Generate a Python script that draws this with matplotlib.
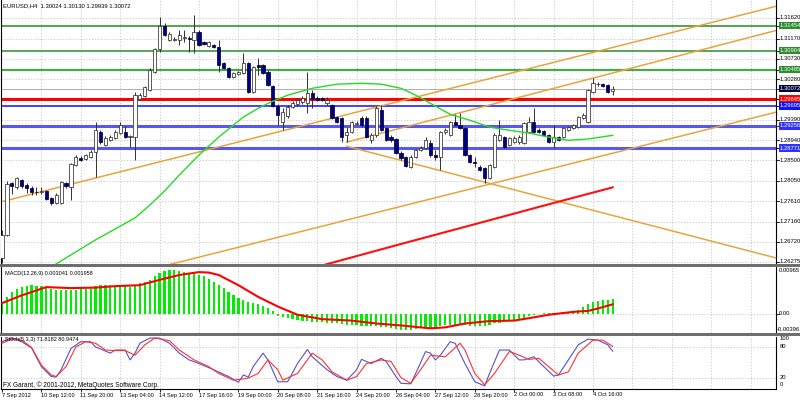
import matplotlib
matplotlib.use("Agg")
import matplotlib.pyplot as plt
from matplotlib.patches import Rectangle

plt.rcParams['font.family'] = ['Liberation Sans', 'DejaVu Sans']

W, H = 800, 400

chart_title = "EURUSD,H4  1.30024 1.30130 1.29939 1.30072"
macd_title = "MACD(12,26,9) 0.003041 0.001958"
stoch_title = "Stoch(5,3,3) 71.8182 80.9474"
copyright_text = "FX Garant, \u00a9 2001-2012, MetaQuotes Software Corp."

date_labels = ["7 Sep 2012", "10 Sep 12:00", "11 Sep 20:00", "13 Sep 04:00", "14 Sep 12:00",
               "17 Sep 16:00", "19 Sep 00:00", "20 Sep 08:00", "21 Sep 16:00", "24 Sep 20:00",
               "26 Sep 04:00", "27 Sep 12:00", "28 Sep 20:00", "2 Oct 00:00", "3 Oct 08:00",
               "4 Oct 16:00"]
date_label_bars = [0, 8, 16, 24, 32, 40, 48, 56, 64, 72, 80, 88, 96, 104, 112, 120]
grid_bars = list(range(8, 157, 8))

opens = [1.2636, 1.2686, 1.2800, 1.2791, 1.2807, 1.2796, 1.2789, 1.2781, 1.2781, 1.2783,
         1.2767, 1.2756, 1.2756, 1.2800, 1.2791, 1.2840, 1.2855, 1.2853, 1.2857, 1.2868,
         1.2912, 1.2883, 1.2894, 1.2899, 1.2910, 1.2912, 1.2901, 1.2901, 1.2984, 1.2991,
         1.3004, 1.3043, 1.3094, 1.3144, 1.3113, 1.3113, 1.3113, 1.3118, 1.3118, 1.3113,
         1.3131, 1.3109, 1.3100, 1.3102, 1.3098, 1.3063, 1.3052, 1.3032, 1.3039, 1.3041,
         1.3063, 1.2999, 1.3059, 1.3059, 1.3043, 1.3013, 1.2969, 1.2934, 1.2947, 1.2967,
         1.2973, 1.2978, 1.2975, 1.2997, 1.2986, 1.2986, 1.2975, 1.2971, 1.2945, 1.2943,
         1.2905, 1.2912, 1.2929, 1.2943, 1.2943, 1.2894, 1.2905, 1.2960, 1.2921, 1.2901,
         1.2897, 1.2866, 1.2857, 1.2835, 1.2857, 1.2872, 1.2877, 1.2888, 1.2862, 1.2857,
         1.2912, 1.2905, 1.2934, 1.2927, 1.2921, 1.2862, 1.2846, 1.2835, 1.2833, 1.2811,
         1.2835, 1.2894, 1.2901, 1.2883, 1.2890, 1.2890, 1.2888, 1.2912, 1.2934, 1.2916,
         1.2914, 1.2905, 1.2890, 1.2901, 1.2901, 1.2916, 1.2921, 1.2923, 1.2943, 1.2934,
         1.2999, 1.3017, 1.3017, 1.3015, 1.30024]
highs = [1.2697, 1.2805, 1.2802, 1.2813, 1.2809, 1.2800, 1.2794, 1.2791, 1.2791, 1.2785,
         1.2770, 1.2778, 1.2805, 1.2802, 1.2844, 1.2862, 1.2859, 1.2864, 1.2872, 1.2934,
         1.2916, 1.2903, 1.2905, 1.2916, 1.2934, 1.2925, 1.2905, 1.2999, 1.2997, 1.3013,
         1.3052, 1.3096, 1.3164, 1.3151, 1.3131, 1.3120, 1.3135, 1.3135, 1.3122, 1.3168,
         1.3135, 1.3111, 1.3111, 1.3105, 1.3113, 1.3065, 1.3054, 1.3043, 1.3046, 1.3085,
         1.3065, 1.3056, 1.3074, 1.3061, 1.3048, 1.3015, 1.2973, 1.2964, 1.2971, 1.2980,
         1.2986, 1.2991, 1.3043, 1.3004, 1.2991, 1.2989, 1.2989, 1.2973, 1.2947, 1.2945,
         1.2923, 1.2936, 1.2936, 1.2947, 1.2947, 1.2910, 1.2969, 1.2971, 1.2923, 1.2905,
         1.2899, 1.2870, 1.2859, 1.2862, 1.2875, 1.2881, 1.2901, 1.2894, 1.2872, 1.2914,
         1.2921, 1.2936, 1.2951, 1.2954, 1.2923, 1.2864, 1.2857, 1.2840, 1.2835, 1.2842,
         1.2910, 1.2938, 1.2903, 1.2901, 1.2903, 1.2905, 1.2934, 1.2945, 1.2964, 1.2921,
         1.2916, 1.2908, 1.2927, 1.2903, 1.2923, 1.2925, 1.2929, 1.2947, 1.2954, 1.3006,
         1.3030, 1.3021, 1.3019, 1.3017, 1.30130]
lows = [1.2625, 1.2684, 1.2776, 1.2787, 1.2789, 1.2778, 1.2774, 1.2774, 1.2776, 1.2763,
        1.2752, 1.2754, 1.2754, 1.2789, 1.2763, 1.2837, 1.2848, 1.2851, 1.2855, 1.2813,
        1.2886, 1.2881, 1.2892, 1.2897, 1.2908, 1.2899, 1.2879, 1.2851, 1.2982, 1.2989,
        1.3002, 1.3041, 1.3087, 1.3122, 1.3111, 1.3111, 1.3102, 1.3109, 1.3087, 1.3085,
        1.3100, 1.3102, 1.3098, 1.3096, 1.3043, 1.3050, 1.3030, 1.3030, 1.3037, 1.3039,
        1.2997, 1.2997, 1.3037, 1.3039, 1.3013, 1.2967, 1.2927, 1.2916, 1.2943, 1.2964,
        1.2969, 1.2973, 1.2954, 1.2964, 1.2980, 1.2980, 1.2971, 1.2940, 1.2932, 1.2890,
        1.2890, 1.2910, 1.2927, 1.2923, 1.2899, 1.2888, 1.2901, 1.2914, 1.2892, 1.2890,
        1.2864, 1.2851, 1.2835, 1.2833, 1.2855, 1.2870, 1.2875, 1.2857, 1.2851, 1.2829,
        1.2908, 1.2903, 1.2925, 1.2918, 1.2859, 1.2844, 1.2835, 1.2826, 1.2800, 1.2809,
        1.2833, 1.2892, 1.2877, 1.2881, 1.2888, 1.2886, 1.2886, 1.2910, 1.2910, 1.2910,
        1.2903, 1.2888, 1.2877, 1.2892, 1.2899, 1.2914, 1.2918, 1.2921, 1.2940, 1.2932,
        1.2997, 1.3013, 1.3010, 1.2997, 1.29939]
closes = [1.2686, 1.2798, 1.2794, 1.2811, 1.2794, 1.2789, 1.2781, 1.2780, 1.2783, 1.2765,
          1.2756, 1.2774, 1.2802, 1.2794, 1.2842, 1.2857, 1.2851, 1.2862, 1.2868, 1.2916,
          1.2890, 1.2899, 1.2901, 1.2912, 1.2927, 1.2901, 1.2904, 1.2993, 1.2993, 1.3010,
          1.3048, 1.3094, 1.3144, 1.3124, 1.3127, 1.3116, 1.3124, 1.3120, 1.3117, 1.3131,
          1.3102, 1.3105, 1.3109, 1.3098, 1.3059, 1.3052, 1.3032, 1.3041, 1.3043, 1.3063,
          1.2999, 1.3054, 1.3054, 1.3041, 1.3015, 1.2969, 1.2949, 1.2956, 1.2967, 1.2975,
          1.2982, 1.2986, 1.2997, 1.2984, 1.2982, 1.2982, 1.2982, 1.2943, 1.2934, 1.2901,
          1.2912, 1.2934, 1.2932, 1.2927, 1.2901, 1.2905, 1.2964, 1.2916, 1.2894, 1.2894,
          1.2866, 1.2855, 1.2837, 1.2857, 1.2872, 1.2877, 1.2894, 1.2862, 1.2857, 1.2912,
          1.2916, 1.2934, 1.2927, 1.2921, 1.2862, 1.2846, 1.2845, 1.2829, 1.2811, 1.2840,
          1.2905, 1.2905, 1.2879, 1.2899, 1.2899, 1.2901, 1.2932, 1.2934, 1.2912, 1.2912,
          1.2905, 1.2890, 1.2901, 1.2894, 1.2921, 1.2923, 1.2927, 1.2945, 1.2949, 1.3004,
          1.3019, 1.3018, 1.3013, 1.2999, 1.30072]

ma_fast_bars = [9, 19, 27, 30, 33, 36, 40, 44, 49, 52, 54, 58, 63, 68, 73, 77, 81, 84, 87,
                91, 95, 99, 103, 107, 111, 115, 119, 124]
ma_fast_vals = [1.2610, 1.2676, 1.2724, 1.2752, 1.2783, 1.2818, 1.2862, 1.2901, 1.2945, 1.2964,
                1.2975, 1.2993, 1.3008, 1.3017, 1.3019, 1.3017, 1.3008, 1.2993, 1.2975, 1.2951,
                1.2938, 1.2923, 1.2916, 1.2910, 1.2901, 1.2894, 1.2897, 1.2905]
ma_slow_bars = [63, 80, 99, 110, 124]
ma_slow_vals = [1.2614, 1.2664, 1.2719, 1.2751, 1.2791]

trend_bars = [[-1, 158], [70, 158], [70, 158], [30, 158]]
trend_prices = [[1.2757, 1.3190], [1.2890, 1.3137], [1.2881, 1.2634], [1.2611, 1.2958]]

price_ticks = [1.31620, 1.31170, 1.30730, 1.30280, 1.29835, 1.29390, 1.28940, 1.28500,
               1.28050, 1.27610, 1.27160, 1.26720, 1.26275]
price_tick_labels = ["1.31620", "1.31170", "1.30730", "1.30280", "", "1.29390", "1.28940",
                     "1.28500", "1.28050", "1.27610", "1.27160", "1.26720", "1.26275"]

level_prices = [1.31454, 1.30904, 1.30485, 1.29845, 1.29695, 1.29256, 1.28771]
level_labels = ["1.31454", "1.30904", "1.30485", "1.29845", "1.29695", "1.29256", "1.28771"]
level_colors = ['#228b22', '#2e8b2e', '#4aa84a', '#ff0000', '#1010ff', '#5858ee', '#5858ee']
level_widths = [1.1, 1.1, 1.6, 2.2, 1.1, 2.2, 2.2]
level_box_colors = ['#2e8b2e', '#2e8b2e', '#2e8b2e', '#ff0000', '#1010ff', '#3030ff', '#3030ff']
bid_price = 1.30072
bid_label = "1.30072"

macd_hist = [0.0025, 0.0035, 0.0045, 0.0052, 0.0056, 0.0058, 0.0059, 0.0058, 0.0057, 0.0056,
             0.0052, 0.0050, 0.0049, 0.0049, 0.0049, 0.0050, 0.0051, 0.0051, 0.0052,
             0.0058, 0.0059, 0.0059, 0.0059, 0.0058, 0.0057, 0.0057, 0.0056, 0.0057,
             0.0063, 0.0066, 0.0070, 0.0078, 0.0085, 0.0089, 0.0090, 0.0090, 0.0089,
             0.0087, 0.0085, 0.0084, 0.0081, 0.0077, 0.0072, 0.0066, 0.0060, 0.0053,
             0.0045, 0.0038, 0.0033, 0.0028, 0.0024, 0.0022, 0.0021, 0.0017, 0.0011, 0.0005,
             -0.0005, -0.0007, -0.0009, -0.0011, -0.0013, -0.0014, -0.0015, -0.0016, -0.0016, -0.0017,
             -0.0018, -0.0019, -0.0020, -0.0022, -0.0023, -0.0024, -0.0024, -0.0025, -0.0026, -0.0026,
             -0.0026, -0.0027, -0.0028, -0.0029, -0.0031, -0.0033, -0.0034, -0.0034, -0.0032, -0.0030,
             -0.0029, -0.0029, -0.0028, -0.0026, -0.0024, -0.0023, -0.0023, -0.0022, -0.0024, -0.0025,
             -0.0025, -0.0025, -0.0026, -0.0024, -0.0020, -0.0018, -0.0017, -0.0015, -0.0013, -0.0011,
             -0.0008, -0.0005, -0.0002, 0.0000, 0.0001, 0.0001, 0.0002, 0.0002, 0.0003, 0.0004,
             0.0006, 0.0008, 0.0014, 0.0020, 0.0024, 0.0026, 0.0028, 0.0029, 0.003041]
signal_bars = [0, 4, 9, 14, 19, 23, 28, 32, 36, 40, 42, 44, 48, 52, 56, 60, 65, 71, 76, 81, 87,
               90, 94, 99, 104, 107, 111, 116, 119, 121, 124]
signal_vals = [0.0022, 0.0038, 0.0055, 0.0053, 0.0054, 0.0057, 0.0059, 0.0070, 0.0080, 0.0086,
               0.0085, 0.0080, 0.0059, 0.0035, 0.0015, -0.0002, -0.0011, -0.0014, -0.0020, -0.0024,
               -0.0030, -0.0028, -0.0020, -0.0015, -0.0014, -0.0009, -0.0002, 0.0004, 0.0006,
               0.0011, 0.001958]
macd_max, macd_min = 0.00965, -0.00396
macd_axis_labels = [("0.00965", 270.5, 779), ("0.00", 313.5, 779), ("-0.00396", 329.5, 777)]

stoch_k_bars = [0, 2, 4, 6, 8, 10, 11, 12, 14, 16, 18, 19, 22, 23, 25, 26, 27, 28, 30, 32, 34,
                36, 38, 40, 43, 46, 48, 49, 50, 51, 53, 54, 56, 58, 60, 62, 63, 66, 68, 70, 72,
                73, 75, 77, 78, 80, 81, 83, 84, 86, 87, 88, 89, 91, 92, 94, 96, 98, 99, 101, 103,
                105, 106, 108, 110, 112, 113, 115, 117, 119, 121, 123, 124]
stoch_k_vals = [90, 98, 90, 78, 42, 23, 22, 36, 77, 90, 90, 80, 68, 74, 74, 55, 68, 87, 97, 97, 87,
                68, 55, 48, 36, 23, 12, 26, 22, 42, 68, 55, 13, 13, 48, 75, 61, 36, 23, 16, 36,
                56, 48, 58, 52, 23, 10, 9, 29, 71, 68, 55, 64, 90, 87, 48, 13, 5, 29, 74, 74,
                55, 55, 61, 42, 24, 26, 55, 84, 95, 93, 84, 71.8182]
stoch_d_bars = [0, 2, 4, 6, 8, 10, 11, 13, 15, 17, 19, 21, 23, 25, 27, 29, 31, 34, 36, 39, 42,
                44, 47, 50, 52, 54, 56, 57, 60, 63, 65, 67, 70, 72, 74, 77, 79, 81, 83, 85, 87,
                90, 93, 94, 96, 98, 100, 103, 104, 107, 109, 111, 113, 115, 117, 120, 122, 124]
stoch_d_vals = [87, 95, 93, 79, 45, 26, 23, 42, 80, 90, 87, 74, 73, 73, 64, 84, 97, 92, 74, 55, 42,
                29, 16, 20, 29, 55, 36, 16, 29, 68, 55, 32, 16, 23, 48, 55, 52, 21, 10, 36, 64,
                61, 87, 74, 29, 7, 29, 71, 68, 56, 58, 42, 26, 32, 68, 93, 93, 80.9474]
stoch_levels = [20, 80]
stoch_axis_labels = [(100, "100", 339.0), (80, "80", 346.0), (20, "20", 377.7), (0, "0", 385.0)]

BAR_X0, BAR_DX = 2.0, 4.925
x_left = (1 - BAR_X0) / BAR_DX
x_right = (776 - BAR_X0) / BAR_DX

fig = plt.figure(figsize=(8, 4), dpi=100)
fig.patch.set_facecolor('white')


def rect(x0, y0, x1, y1):
    return [x0 / W, 1 - y1 / H, (x1 - x0) / W, (y1 - y0) / H]


grid_kw = dict(color='#c4c4c4', lw=0.6, ls=(0, (1.5, 2.0)), zorder=0.5)
lab_fs = 4.2
date_fs = 4.1


def style_ax(ax):
    ax.set_xlim(x_left, x_right)
    ax.set_xticks([])
    ax.set_yticks([])
    for s in ['left', 'right', 'bottom', 'top']:
        ax.spines[s].set_visible(False)
    for s in ['left', 'right']:
        ax.spines[s].set_visible(True)
        ax.spines[s].set_color('#000000')
        ax.spines[s].set_linewidth(0.8)
    ax.set_facecolor('white')
    for b in grid_bars:
        ax.axvline(b, **grid_kw)


def right_label(ax, yval, text, fc=None, tc='black'):
    ax.plot([1.0, 1.0 + 3.0 / 775], [yval, yval], transform=ax.get_yaxis_transform(),
            color='black', lw=0.6, clip_on=False)
    if not text:
        return
    kw = dict(transform=ax.get_yaxis_transform(), va='center', ha='left',
              fontsize=lab_fs, color=tc, clip_on=False, zorder=10)
    if fc is not None:
        kw['bbox'] = dict(boxstyle='square,pad=0.2', fc=fc, ec='none')
    ax.text(1.0 + 3.8 / 775, yval, text, **kw)


# ---------------- main panel ----------------
ax = fig.add_axes(rect(1, 0, 776, 264))
style_ax(ax)
ax.set_ylim(1.262311, 1.320143)
for p in price_ticks:
    ax.axhline(p, **grid_kw)

for p, c, w in zip(level_prices, level_colors, level_widths):
    ax.axhline(p, color=c, lw=w, zorder=1.5)
ax.axhline(bid_price, color='#a0a0a0', lw=0.6, zorder=1.4)

for tb, tp in zip(trend_bars, trend_prices):
    ax.plot(tb, tp, color='#e6a53c', lw=1.1, zorder=2)

n = len(opens)
for i in range(n):
    o, h, l, c = opens[i], highs[i], lows[i], closes[i]
    ax.vlines(i, l, h, color='#303030', lw=0.7, zorder=3)
    if abs(c - o) < 0.00004:
        ax.hlines(o, i - 0.32, i + 0.32, color='#303030', lw=0.7, zorder=4)
    elif c > o:
        ax.bar(i, c - o, bottom=o, width=0.64, color='white', edgecolor='#303030',
               linewidth=0.55, zorder=4)
    else:
        ax.bar(i, o - c, bottom=c, width=0.64, color='#000080', edgecolor='#000040',
               linewidth=0.55, zorder=4)

ax.plot(ma_fast_bars, ma_fast_vals, color='#22dd22', lw=1.0, zorder=5)
ax.plot(ma_slow_bars, ma_slow_vals, color='#ff1010', lw=1.5, zorder=5)

for p, t in zip(price_ticks, price_tick_labels):
    right_label(ax, p, t)
for p, t, bc in zip(level_prices, level_labels, level_box_colors):
    right_label(ax, p, t, fc=bc, tc='white')
right_label(ax, bid_price, bid_label, fc='#000040', tc='white')

fig.text(3 / W, 1 - 6 / H, chart_title, fontsize=4.2, va='center', ha='left')

# ---------------- MACD panel ----------------
ax2 = fig.add_axes(rect(1, 267, 776, 333))
style_ax(ax2)
ax2.set_ylim(macd_min, macd_max)
ax2.axhline(0, **grid_kw)
ax2.bar(range(len(macd_hist)), macd_hist, width=0.45, color='#00ee00', zorder=2)
ax2.plot(signal_bars, signal_vals, color='#ff0000', lw=1.5, zorder=3)
ax2.plot([1.0, 1.0 + 3.0 / 775], [0, 0], transform=ax2.get_yaxis_transform(),
         color='black', lw=0.6, clip_on=False)
for txt, ypx, xpx in macd_axis_labels:
    fig.text(xpx / W, 1 - ypx / H, txt, fontsize=lab_fs, va='center', ha='left')
fig.text(5 / W, 1 - 273.5 / H, macd_title, fontsize=4.0, va='center', ha='left')

# ---------------- Stochastic panel ----------------
ax3 = fig.add_axes(rect(1, 336.5, 776, 388.5))
style_ax(ax3)
ax3.spines['bottom'].set_visible(True)
ax3.spines['bottom'].set_color('black')
ax3.spines['bottom'].set_linewidth(0.8)
ax3.set_ylim(0, 100)
for lv in stoch_levels:
    ax3.axhline(lv, **grid_kw)
ax3.plot(stoch_k_bars, stoch_k_vals, color='#5a50c8', lw=0.8, zorder=3)
ax3.plot(stoch_d_bars, stoch_d_vals, color='#ff3030', lw=0.8, zorder=3)
for val, txt, ypx in stoch_axis_labels:
    fig.text(780 / W, 1 - ypx / H, txt, fontsize=lab_fs, va='center', ha='left')
fig.text(5 / W, 1 - 340 / H, stoch_title, fontsize=4.0, va='center', ha='left')
fig.text(3 / W, 1 - 385.3 / H, copyright_text, fontsize=4.7, va='center', ha='left')

ax3.set_xticks(date_label_bars)
ax3.set_xticklabels([])
ax3.tick_params(axis='x', direction='out', length=2, width=0.6, color='black')
for b, t in zip(date_label_bars, date_labels):
    ax3.text(b - 0.1, -0.125, t, transform=ax3.get_xaxis_transform(), fontsize=date_fs,
             va='center', ha='left', clip_on=False)

# separators between panels
for y0 in (264, 333.3):
    fig.patches.append(Rectangle((0, 1 - (y0 + 3) / H), 1, 3 / H, transform=fig.transFigure,
                                 facecolor='#6e6e6e', edgecolor='none', zorder=20))

fig.savefig("out.png", dpi=100, facecolor='white')
